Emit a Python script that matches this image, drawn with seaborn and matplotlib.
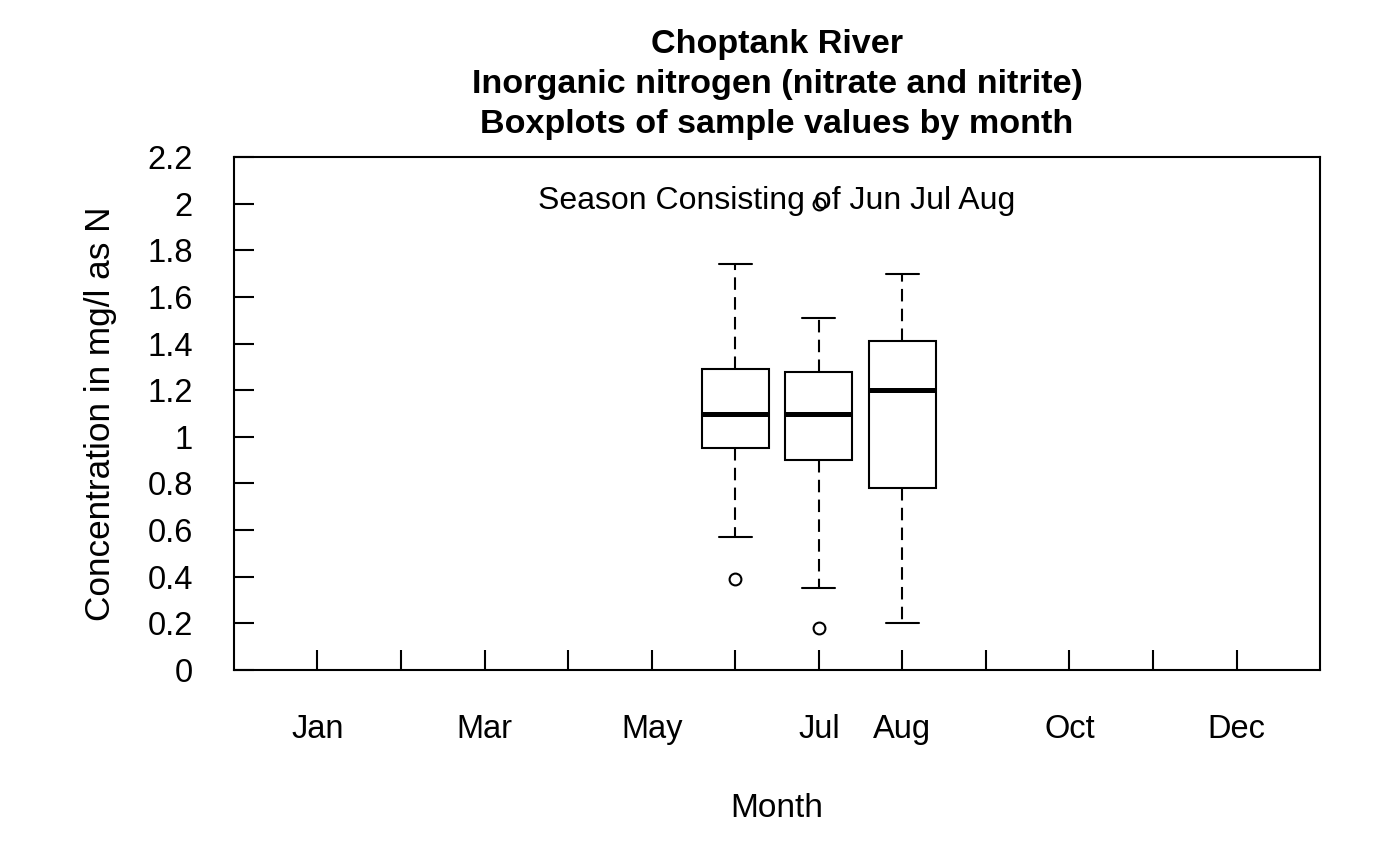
import numpy as np
import pandas as pd
import matplotlib
matplotlib.use('Agg')
import matplotlib.pyplot as plt
import seaborn as sns

sns.set_theme(style='white')
plt.rcParams['font.family'] = ['Liberation Sans', 'DejaVu Sans']
plt.rcParams['text.color'] = 'black'
plt.rcParams['axes.labelcolor'] = 'black'

# sample values per month (only the summer season has data)
jun = [0.39, 0.57, 0.95, 1.02, 1.10, 1.20, 1.29, 1.45, 1.74]
jul = [0.18, 0.35, 0.90, 1.00, 1.10, 1.20, 1.28, 1.51, 2.00]
aug = [0.20, 0.78, 1.20, 1.41, 1.70]

month_ticks = [1, 2, 3, 4, 5, 6, 7, 8, 9, 10, 11, 12]
month_labels = ['Jan', '', 'Mar', '', 'May', '', 'Jul', 'Aug', '', 'Oct', '', 'Dec']
y_ticks = [0, 0.2, 0.4, 0.6, 0.8, 1, 1.2, 1.4, 1.6, 1.8, 2, 2.2]

df = pd.DataFrame({
    'month': [6] * len(jun) + [7] * len(jul) + [8] * len(aug),
    'conc': jun + jul + aug,
})

fig, ax = plt.subplots(figsize=(14, 8.66), dpi=100)
plt.subplots_adjust(left=0.167, right=0.943, bottom=0.2263, top=0.8187)

sns.boxplot(data=df, x='month', y='conc', native_scale=True, width=0.8,
            color='white', linecolor='black', linewidth=1.5, ax=ax,
            whiskerprops=dict(linestyle=(0, (6, 3.5))),
            medianprops=dict(linewidth=3.6),
            flierprops=dict(marker='o', markersize=8.5, markerfacecolor='none',
                            markeredgecolor='black', markeredgewidth=1.5))

ax.set_xlim(0, 13)
ax.set_ylim(0, 2.2)
ax.set_xticks(month_ticks)
ax.set_xticklabels(month_labels)
ax.set_yticks(y_ticks)
ax.set_yticklabels([f'{v:g}' for v in y_ticks])
ax.tick_params(axis='both', direction='in', length=14.4, width=1.5,
               labelsize=23.5, colors='black', bottom=True, left=True)
ax.tick_params(axis='x', pad=32)
ax.tick_params(axis='y', pad=29.5)
for s in ax.spines.values():
    s.set_visible(True)
    s.set_color('black')
    s.set_linewidth(1.5)

ax.set_xlabel('Month', fontsize=24, labelpad=34.5)
ax.set_ylabel('Concentration in mg/l as N', fontsize=25.3, labelpad=22)
ax.set_title('Choptank River\nInorganic nitrogen (nitrate and nitrite)\nBoxplots of sample values by month',
             fontsize=24.6, fontweight='bold', pad=17, linespacing=1.38)
ax.text(0.5, 0.915, 'Season Consisting of Jun Jul Aug', transform=ax.transAxes,
        ha='center', va='center', fontsize=23)

fig.savefig('out.png', dpi=100)
